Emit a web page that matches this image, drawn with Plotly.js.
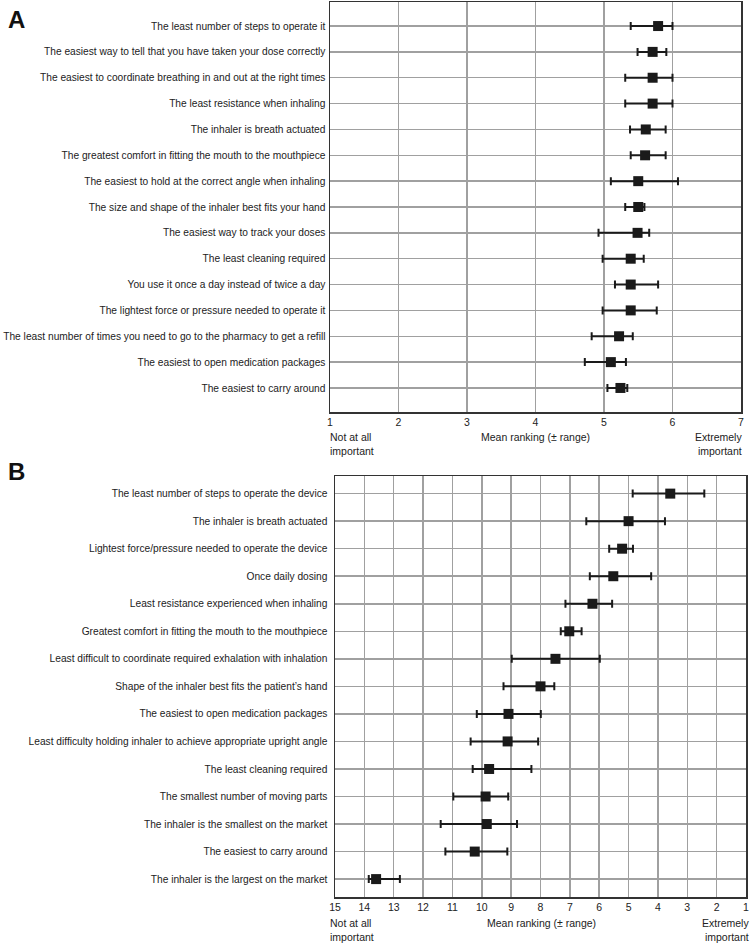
<!DOCTYPE html>
<html>
<head>
<meta charset="utf-8">
<script src="https://cdn.plot.ly/plotly-3.0.1.min.js"></script>
<style>html,body{margin:0;padding:0;background:#fff;}#chart{width:750px;height:946px;}</style>
</head>
<body>
<div id="chart"></div>
<script>
// Panel A: importance rating 1–7
var labelsA = [
  "The least number of steps to operate it",
  "The easiest way to tell that you have taken your dose correctly",
  "The easiest to coordinate breathing in and out at the right times",
  "The least resistance when inhaling",
  "The inhaler is breath actuated",
  "The greatest comfort in fitting the mouth to the mouthpiece",
  "The easiest to hold at the correct angle when inhaling",
  "The size and shape of the inhaler best fits your hand",
  "The easiest way to track your doses",
  "The least cleaning required",
  "You use it once a day instead of twice a day",
  "The lightest force or pressure needed to operate it",
  "The least number of times you need to go to the pharmacy to get a refill",
  "The easiest to open medication packages",
  "The easiest to carry around"
];
var meanA = [5.79, 5.71, 5.71, 5.71, 5.61, 5.60, 5.50, 5.50, 5.49, 5.39, 5.39, 5.39, 5.22, 5.10, 5.24];
var lowA  = [5.39, 5.49, 5.31, 5.31, 5.38, 5.39, 5.10, 5.31, 4.92, 4.98, 5.16, 4.98, 4.82, 4.72, 5.05];
var highA = [6.00, 5.91, 6.00, 6.00, 5.90, 5.90, 6.08, 5.59, 5.66, 5.58, 5.79, 5.77, 5.42, 5.32, 5.34];

// Panel B: ranking 15–1
var labelsB = [
  "The least number of steps to operate the device",
  "The inhaler is breath actuated",
  "Lightest force/pressure needed to operate the device",
  "Once daily dosing",
  "Least resistance experienced when inhaling",
  "Greatest comfort in fitting the mouth to the mouthpiece",
  "Least difficult to coordinate required exhalation with inhalation",
  "Shape of the inhaler best fits the patient\u2019s hand",
  "The easiest to open medication packages",
  "Least difficulty holding inhaler to achieve appropriate upright angle",
  "The least cleaning required",
  "The smallest number of moving parts",
  "The inhaler is the smallest on the market",
  "The easiest to carry around",
  "The inhaler is the largest on the market"
];
var meanB  = [3.58, 5.00, 5.22, 5.52, 6.23, 7.02, 7.49, 8.00, 9.09, 9.12, 9.75, 9.87, 9.83, 10.24, 13.60];
var worstB = [4.86, 6.44, 5.66, 6.32, 7.15, 7.31, 8.98, 9.26, 10.17, 10.38, 10.31, 10.97, 11.40, 11.24, 13.85];
var bestB  = [2.42, 3.76, 4.85, 4.23, 5.56, 6.60, 5.98, 7.53, 7.99, 8.08, 8.31, 9.10, 8.80, 9.13, 12.79];

var ticksA = [1, 2, 3, 4, 5, 6, 7];
var ticksB = [15, 14, 13, 12, 11, 10, 9, 8, 7, 6, 5, 4, 3, 2, 1];

var rowsA = labelsA.map(function(_, i){ return i + 1; });
var rowsB = labelsB.map(function(_, i){ return i + 1; });

var traceA = {
  type: 'scatter', mode: 'markers', x: meanA, y: rowsA, xaxis: 'x', yaxis: 'y',
  marker: {symbol: 'square', size: 10, color: '#1a1a1a'},
  error_x: {type: 'data', symmetric: false,
    array: highA.map(function(h, i){ return h - meanA[i]; }),
    arrayminus: lowA.map(function(l, i){ return meanA[i] - l; }),
    color: '#1a1a1a', thickness: 2, width: 4},
  hoverinfo: 'x+y', showlegend: false
};
var traceB = {
  type: 'scatter', mode: 'markers', x: meanB, y: rowsB, xaxis: 'x2', yaxis: 'y2',
  marker: {symbol: 'square', size: 10, color: '#1a1a1a'},
  error_x: {type: 'data', symmetric: false,
    array: worstB.map(function(w, i){ return w - meanB[i]; }),
    arrayminus: bestB.map(function(b, i){ return meanB[i] - b; }),
    color: '#1a1a1a', thickness: 2, width: 4},
  hoverinfo: 'x+y', showlegend: false
};

var W = 750, H = 946;
function px(x){ return x / W; }
function py(y){ return 1 - y / H; }

var lab = {family: 'Liberation Sans, Arial, sans-serif', size: 10.2, color: '#222'};
var tickf = {family: 'Liberation Sans, Arial, sans-serif', size: 10.5, color: '#222'};

var axisCommon = {
  showgrid: true, gridcolor: '#a0a0a0', gridwidth: 1.5,
  showline: true, linecolor: '#333', linewidth: 1.5, mirror: true,
  zeroline: false, ticks: '', fixedrange: true
};

var layout = {
  width: W, height: H,
  margin: {l: 0, r: 0, t: 0, b: 0},
  paper_bgcolor: '#fff', plot_bgcolor: '#fff',
  showlegend: false,
  xaxis: Object.assign({}, axisCommon, {
    domain: [px(330), px(741)], anchor: 'y', range: [0.9999, 7.0001],
    tickvals: ticksA, ticktext: ticksA.map(String), tickfont: tickf
  }),
  yaxis: Object.assign({}, axisCommon, {
    domain: [py(412), py(2)], anchor: 'x', range: [15.93, 0.07],
    tickvals: rowsA, ticktext: labelsA, tickfont: lab, ticklabelstandoff: 1
  }),
  xaxis2: Object.assign({}, axisCommon, {
    domain: [px(335), px(746)], anchor: 'y2', range: [15.0001, 0.9999],
    tickvals: ticksB, ticktext: ticksB.map(String), tickfont: tickf
  }),
  yaxis2: Object.assign({}, axisCommon, {
    domain: [py(897), py(476)], anchor: 'x2', range: [15.65, 0.36],
    tickvals: rowsB, ticktext: labelsB, tickfont: lab, ticklabelstandoff: 4
  }),
  annotations: [
    {text: '<b>A</b>', xref: 'paper', yref: 'paper', x: px(6), y: py(4), xanchor: 'left', yanchor: 'top',
     showarrow: false, font: {family: 'Liberation Sans, Arial, sans-serif', size: 24, color: '#111'}},
    {text: '<b>B</b>', xref: 'paper', yref: 'paper', x: px(6), y: py(456), xanchor: 'left', yanchor: 'top',
     showarrow: false, font: {family: 'Liberation Sans, Arial, sans-serif', size: 24, color: '#111'}},
    {text: 'Not at all<br>important', xref: 'paper', yref: 'paper', x: px(328), y: py(429), xanchor: 'left', yanchor: 'top', align: 'left',
     showarrow: false, font: tickf},
    {text: 'Mean ranking (\u00b1 range)', xref: 'paper', yref: 'paper', x: px(535.5), y: py(429), xanchor: 'center', yanchor: 'top',
     showarrow: false, font: tickf},
    {text: 'Extremely<br>important', xref: 'paper', yref: 'paper', x: px(744), y: py(429), xanchor: 'right', yanchor: 'top', align: 'right',
     showarrow: false, font: tickf},
    {text: 'Not at all<br>important', xref: 'paper', yref: 'paper', x: px(328), y: py(915), xanchor: 'left', yanchor: 'top', align: 'left',
     showarrow: false, font: tickf},
    {text: 'Mean ranking (\u00b1 range)', xref: 'paper', yref: 'paper', x: px(541), y: py(915), xanchor: 'center', yanchor: 'top',
     showarrow: false, font: tickf},
    {text: 'Extremely<br>important', xref: 'paper', yref: 'paper', x: px(751), y: py(915), xanchor: 'right', yanchor: 'top', align: 'right',
     showarrow: false, font: tickf}
  ]
};

Plotly.newPlot('chart', [traceA, traceB], layout, {displayModeBar: false, staticPlot: true});
</script>
</body>
</html>
